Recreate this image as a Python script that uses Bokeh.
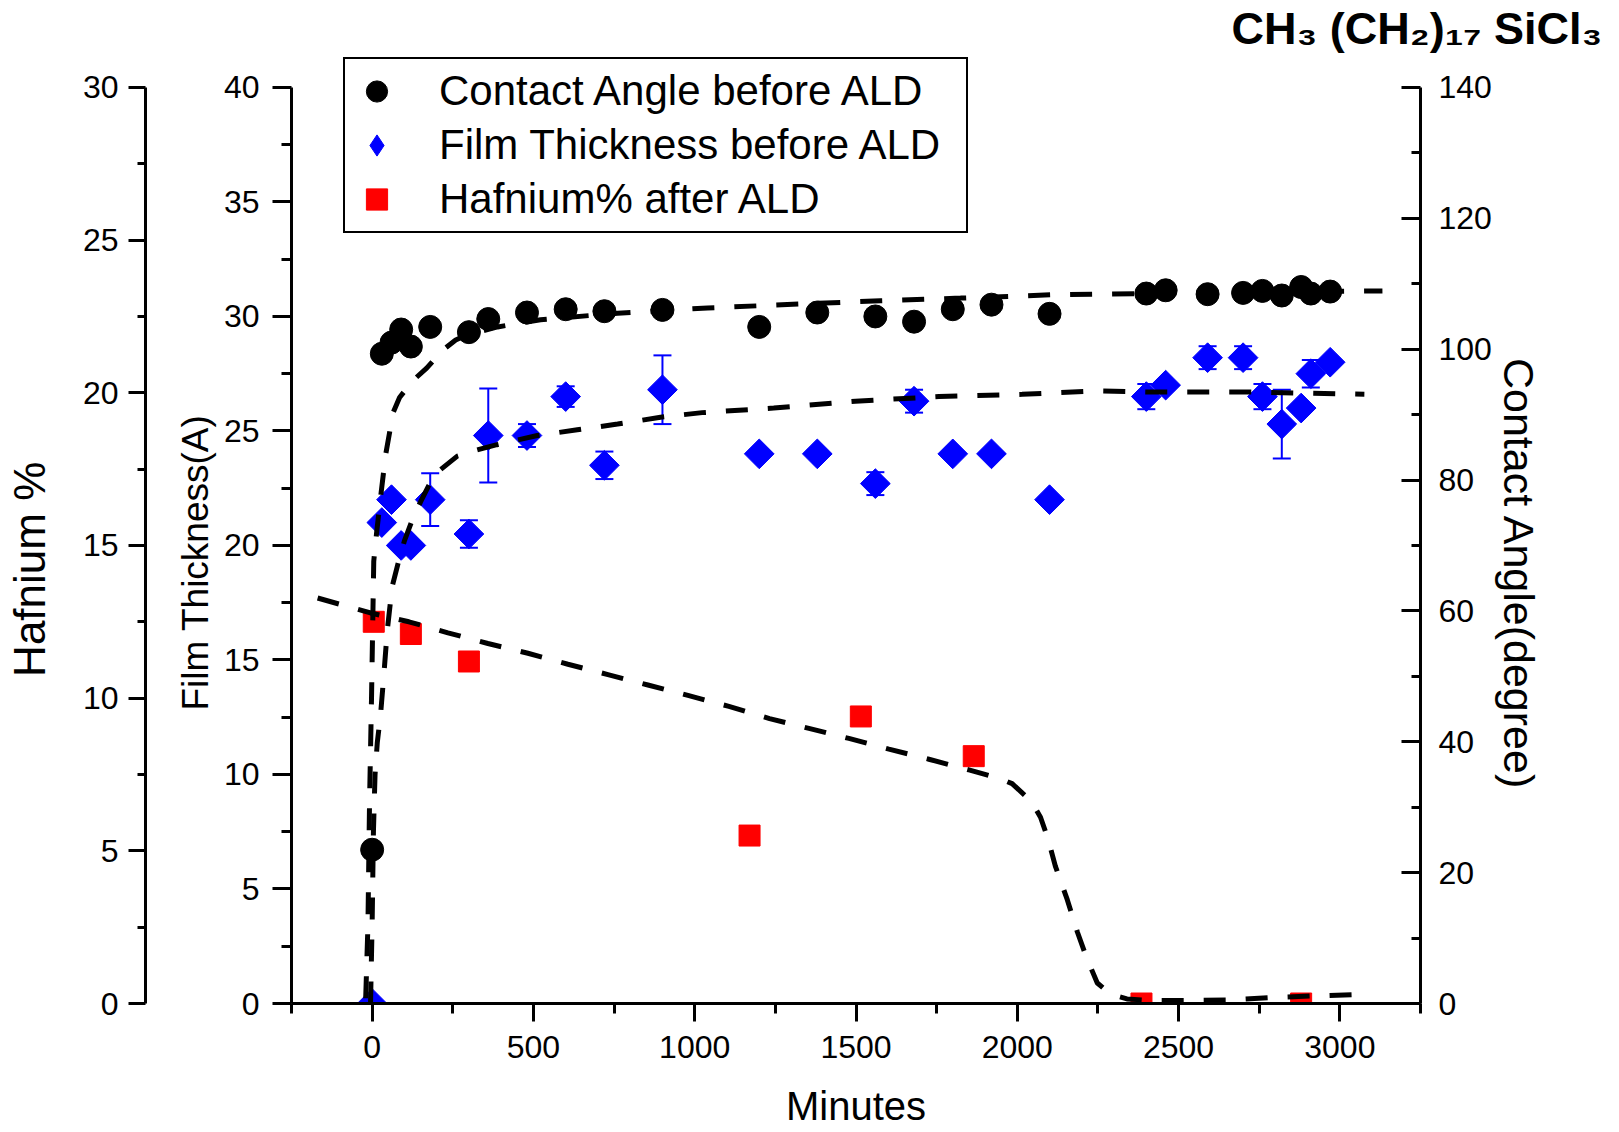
import numpy as np
from bokeh.plotting import figure
from bokeh.models import (Range1d, LinearAxis, FixedTicker, Legend, LegendItem, Title,
                          ColumnDataSource, Whisker, TeeHead)
from bokeh.embed import file_html
from bokeh.resources import INLINE

# ---------------- data ----------------
ca_minutes = [0, 30, 60, 90, 120, 180, 300, 360, 480, 600, 720, 900, 1200, 1380, 1560,
              1680, 1800, 1920, 2100, 2400, 2460, 2590, 2700, 2760, 2820, 2880, 2910, 2970]
contact_angle = [23.5, 99.3, 101.0, 103.0, 100.4, 103.4, 102.6, 104.6, 105.6, 106.1, 105.8,
                 106.0, 103.4, 105.6, 105.0, 104.2, 106.1, 106.8, 105.4, 108.5, 109.0, 108.4,
                 108.6, 108.9, 108.2, 109.5, 108.5, 108.8]

ft_minutes = [0, 30, 60, 90, 120, 180, 300, 360, 480, 600, 720, 900, 1200, 1380, 1560,
              1680, 1800, 1920, 2100, 2400, 2460, 2590, 2700, 2760, 2820, 2880, 2910, 2970]
film_thickness = [0.0, 21.0, 22.0, 20.0, 20.0, 22.0, 20.5, 24.8, 24.8, 26.5, 23.5, 26.8, 24.0,
                  24.0, 22.7, 26.3, 24.0, 24.0, 22.0, 26.5, 27.0, 28.2, 28.2, 26.5, 25.3, 26.0,
                  27.5, 28.0]
film_err = [0, 0, 0, 0, 0, 1.15, 0.6, 2.05, 0.5, 0.45, 0.6, 1.5, 0, 0, 0.5, 0.5, 0, 0, 0,
            0.55, 0, 0.5, 0.5, 0.55, 1.5, 0, 0.6, 0]

hf_minutes = [5, 120, 300, 1170, 1515, 1865, 2385, 2880]
hafnium = [12.5, 12.1, 11.2, 5.5, 9.4, 8.1, 0.0, 0.0]

# dashed fit curves
ca_fit_minutes = [-20, -13, -8, -2, 5, 14, 26, 42, 65, 85, 124, 169, 220, 259, 295, 389, 522,
                  761, 1040, 1328, 1576, 1824, 2103, 2567, 3132]
ca_fit = [0.8, 12, 31, 46.5, 67.6, 72.0, 77.3, 83.9, 90.3, 92.6, 95.1, 97.1, 99.9, 101.4, 102.2,
          103.4, 104.5, 105.5, 106.3, 106.9, 107.4, 107.8, 108.3, 108.6, 108.9]

ft_fit_minutes = [-5, 0, 4, 9, 16, 26, 36, 47, 62, 80, 100, 124, 150, 175, 202, 264, 320, 387,
                  512, 636, 761, 894, 1023, 1245, 1498, 1757, 2015, 2248, 2413, 2723, 3076]
ft_fit = [0.0, 3.5, 7.5, 10.0, 11.4, 12.6, 14.3, 16.3, 18.2, 19.2, 20.2, 21.1, 21.9, 22.6, 23.2,
          23.9, 24.15, 24.4, 24.8, 25.05, 25.3, 25.6, 25.8, 26.0, 26.3, 26.5, 26.6, 26.75, 26.7,
          26.7, 26.6]

hf_fit_minutes = [-169, -5, 114, 235, 359, 483, 607, 731, 855, 979, 1106, 1232, 1354, 1478, 1602,
                  1726, 1850, 1950, 1984, 2025, 2050, 2072, 2095, 2118, 2155, 2186, 2215, 2248,
                  2290, 2340, 2413, 2537, 2667, 2800, 2924, 3069]
hf_fit = [13.28, 12.79, 12.50, 12.14, 11.79, 11.47, 11.11, 10.77, 10.43, 10.09, 9.73, 9.33, 9.01,
          8.68, 8.33, 8.0, 7.65, 7.35, 7.2, 6.8, 6.5, 6.1, 5.4, 4.5, 3.4, 2.35, 1.5, 0.67, 0.3,
          0.15, 0.1, 0.1, 0.12, 0.2, 0.25, 0.3]

x_ticks = [0, 500, 1000, 1500, 2000, 2500, 3000]
x_minor = [-250, 250, 750, 1250, 1750, 2250, 2750, 3250]
film_ticks = [0, 5, 10, 15, 20, 25, 30, 35, 40]
film_minor = [2.5, 7.5, 12.5, 17.5, 22.5, 27.5, 32.5, 37.5]
hf_ticks = [0, 5, 10, 15, 20, 25, 30]
hf_minor = [2.5, 7.5, 12.5, 17.5, 22.5, 27.5]
ca_ticks = [0, 20, 40, 60, 80, 100, 120, 140]
ca_minor = [10, 30, 50, 70, 90, 110, 130]

FONT = "Liberation Sans"
NB = "\u00a0"

# frame spans a little above the axes' top so the legend box fits inside it
TOP_PAD = 38 / 918.0

# ---------------- figure ----------------
p = figure(width=1615, height=1130, x_range=Range1d(-250, 3250),
           y_range=Range1d(0, 40 * (1 + TOP_PAD)),
           output_backend="svg", toolbar_location=None,
           min_border_left=291, min_border_right=195, min_border_top=49, min_border_bottom=125)
p.extra_y_ranges = {"ca": Range1d(0, 140 * (1 + TOP_PAD)), "hf": Range1d(0, 30 * (1 + TOP_PAD))}
p.outline_line_color = None
p.xgrid.visible = False
p.ygrid.visible = False
p.background_fill_color = "white"
p.border_fill_color = "white"


def style_axis(ax, tick_out, minor_out, standoff, label_size, label_standoff,
               tick_in=0, minor_in=0, tick_size="32px"):
    ax.axis_line_width = 3
    ax.axis_line_color = "black"
    ax.major_tick_line_width = 3
    ax.minor_tick_line_width = 3
    ax.major_tick_line_color = "black"
    ax.minor_tick_line_color = "black"
    ax.major_tick_out = tick_out
    ax.major_tick_in = tick_in
    ax.minor_tick_out = minor_out
    ax.minor_tick_in = minor_in
    ax.major_label_text_font = FONT
    ax.major_label_text_font_size = tick_size
    ax.major_label_text_color = "black"
    ax.major_label_standoff = standoff
    ax.axis_label_text_font = FONT
    ax.axis_label_text_font_style = "normal"
    ax.axis_label_text_color = "black"
    ax.axis_label_text_font_size = label_size
    ax.axis_label_standoff = label_standoff


# x axis
xa = p.xaxis[0]
xa.ticker = FixedTicker(ticks=x_ticks, minor_ticks=x_minor)
xa.axis_label = "Minutes"
style_axis(xa, 18, 10, 14, "40px", 23)

# film thickness axis (inner left)
fa = p.yaxis[0]
fa.ticker = FixedTicker(ticks=film_ticks, minor_ticks=film_minor)
fa.bounds = (0, 40)
fa.axis_label = "Film Thickness(A)" + NB * 7
style_axis(fa, 19, 10, 13, "37px", 5)

# spacer between the two left axes (one invisible tick, empty label)
spacer = LinearAxis(y_range_name="hf", ticker=FixedTicker(ticks=[15]),
                    major_label_overrides={15: ""},
                    axis_line_color=None, major_tick_line_color=None,
                    minor_tick_line_color=None, major_tick_out=26, major_tick_in=0,
                    minor_tick_out=0, major_label_standoff=0)
p.add_layout(spacer, "left")

# hafnium axis (outer left)
ha = LinearAxis(y_range_name="hf", axis_label="Hafnium %" + NB * 7, bounds=(0, 30),
                ticker=FixedTicker(ticks=hf_ticks, minor_ticks=hf_minor))
style_axis(ha, 17, 8, 10, "44px", 26)
p.add_layout(ha, "left")

# contact angle axis (right, ticks inward)
ra = LinearAxis(y_range_name="ca", axis_label=NB * 8 + "Contact Angle(degree)", bounds=(0, 140),
                ticker=FixedTicker(ticks=ca_ticks, minor_ticks=ca_minor))
style_axis(ra, 0, 0, 18, "43px", 0, tick_in=19, minor_in=9)
p.add_layout(ra, "right")

# ---------------- glyphs ----------------
ca_src = ColumnDataSource(dict(x=ca_minutes, y=contact_angle))
ft_src = ColumnDataSource(dict(x=ft_minutes, y=film_thickness))
hf_src = ColumnDataSource(dict(x=hf_minutes, y=hafnium))

err_x = [m for m, e in zip(ft_minutes, film_err) if e > 0]
err_lo = [v - e for v, e in zip(film_thickness, film_err) if e > 0]
err_hi = [v + e for v, e in zip(film_thickness, film_err) if e > 0]
err_src = ColumnDataSource(dict(x=err_x, lower=err_lo, upper=err_hi))

p.add_layout(Whisker(base="x", lower="lower", upper="upper", source=err_src,
                     line_color="#0000FF", line_width=2,
                     upper_head=TeeHead(size=18, line_color="#0000FF", line_width=2),
                     lower_head=TeeHead(size=18, line_color="#0000FF", line_width=2)))

r_ca = p.scatter("x", "y", source=ca_src, marker="circle", size=23,
                 fill_color="black", line_color="black", y_range_name="ca")
r_ft = p.scatter("x", "y", source=ft_src, marker="square", angle=np.pi / 4, size=21,
                 fill_color="#0000FF", line_color="#0000FF")
r_hf = p.scatter("x", "y", source=hf_src, marker="square", size=21,
                 fill_color="#FF0000", line_color="#FF0000", y_range_name="hf")
# legend swatch for the film thickness series (legend markers are never rotated);
# same data, hidden on the plot, only drawn in the legend
r_ft_key = p.scatter("x", "y", source=ft_src, marker="diamond", size=21,
                     fill_color="#0000FF", line_color="#0000FF", visible=False)

dash = "22 20"
p.line(ca_fit_minutes, ca_fit, line_color="black", line_width=5, line_dash=dash,
       y_range_name="ca")
p.line(ft_fit_minutes, ft_fit, line_color="black", line_width=5, line_dash=dash)
p.line(hf_fit_minutes, hf_fit, line_color="black", line_width=5, line_dash=dash,
       y_range_name="hf")

# ---------------- legend ----------------
legend = Legend(items=[
    LegendItem(label="Contact Angle before ALD", renderers=[r_ca]),
    LegendItem(label="Film Thickness before ALD", renderers=[r_ft_key]),
    LegendItem(label="Hafnium% after ALD", renderers=[r_hf]),
], location=(52, 770))
legend.label_text_font = FONT
legend.label_text_font_size = "42px"
legend.label_text_color = "black"
legend.border_line_color = "black"
legend.border_line_alpha = 1.0
legend.border_line_width = 2
legend.background_fill_color = "white"
legend.background_fill_alpha = 1.0
legend.padding = 5
legend.spacing = 0
legend.margin = 0
legend.glyph_height = 54
legend.glyph_width = 53
legend.label_standoff = 36
legend.label_width = 522
legend.label_height = 54
legend.click_policy = "none"
p.add_layout(legend, "center")

# ---------------- chemical formula title ----------------
formula = Title(text="CH\u2083 (CH\u2082)\u2081\u2087 SiCl\u2083", align="left", offset=940,
                text_font=FONT, text_font_style="bold", text_font_size="45px",
                text_color="black", standoff=-8)
p.add_layout(formula, "above")

open("out.html", "w").write(file_html(p, INLINE))
